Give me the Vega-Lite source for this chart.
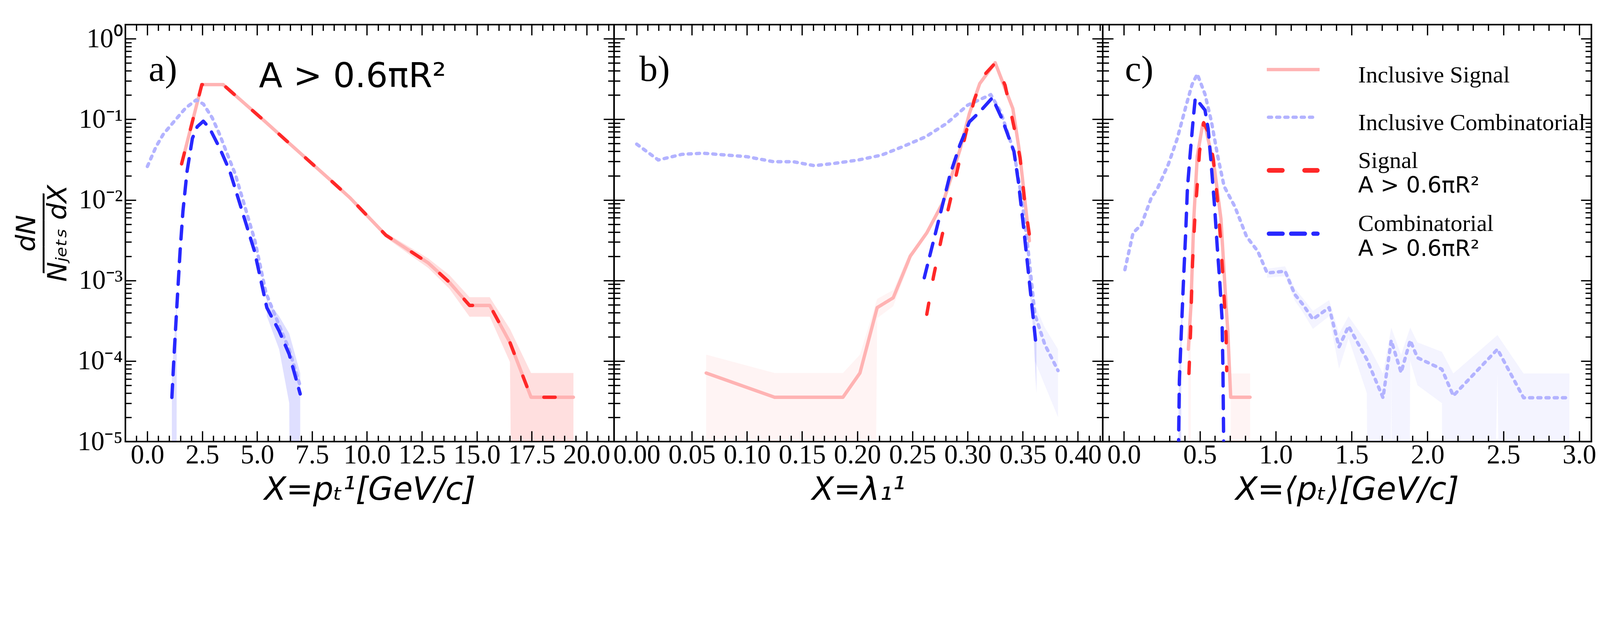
{
  "$schema": "https://vega.github.io/schema/vega-lite/v6.json",
  "background": "white",
  "padding": {"left": 33, "top": 59, "right": 0, "bottom": 4},
  "bounds": "flush",
  "spacing": 0,
  "datasets": {
    "pa": [
      {"s": "IS", "x": 1.56, "y": 0.028},
      {"s": "IS", "x": 2.48, "y": 0.27},
      {"s": "IS", "x": 3.45, "y": 0.27},
      {"s": "IS", "x": 4.42, "y": 0.158},
      {"s": "IS", "x": 5.38, "y": 0.093},
      {"s": "IS", "x": 6.34, "y": 0.054},
      {"s": "IS", "x": 7.3, "y": 0.0315},
      {"s": "IS", "x": 8.27, "y": 0.0183},
      {"s": "IS", "x": 9.23, "y": 0.0106},
      {"s": "IS", "x": 10.86, "y": 0.00365},
      {"s": "IS", "x": 12.79, "y": 0.00165},
      {"s": "IS", "x": 13.75, "y": 0.00095},
      {"s": "IS", "x": 14.67, "y": 0.00049},
      {"s": "IS", "x": 15.59, "y": 0.00049},
      {"s": "IS", "x": 16.51, "y": 0.00017},
      {"s": "IS", "x": 17.47, "y": 0.0000355},
      {"s": "IS", "x": 19.4, "y": 0.0000355},
      {"s": "IC", "x": 0.0, "y": 0.026},
      {"s": "IC", "x": 0.4, "y": 0.046},
      {"s": "IC", "x": 0.72, "y": 0.065},
      {"s": "IC", "x": 1.2, "y": 0.093},
      {"s": "IC", "x": 1.74, "y": 0.138},
      {"s": "IC", "x": 2.22, "y": 0.174},
      {"s": "IC", "x": 2.55, "y": 0.155},
      {"s": "IC", "x": 2.95, "y": 0.105},
      {"s": "IC", "x": 3.28, "y": 0.066},
      {"s": "IC", "x": 3.64, "y": 0.037},
      {"s": "IC", "x": 4.0, "y": 0.021},
      {"s": "IC", "x": 4.4, "y": 0.009},
      {"s": "IC", "x": 4.9, "y": 0.0031},
      {"s": "IC", "x": 5.4, "y": 0.0007},
      {"s": "IC", "x": 5.95, "y": 0.0003},
      {"s": "IC", "x": 6.45, "y": 0.00014},
      {"s": "IC", "x": 6.95, "y": 0.00005},
      {"s": "S", "x": 1.56, "y": 0.028},
      {"s": "S", "x": 2.48, "y": 0.27},
      {"s": "S", "x": 3.45, "y": 0.27},
      {"s": "S", "x": 4.42, "y": 0.158},
      {"s": "S", "x": 5.38, "y": 0.093},
      {"s": "S", "x": 6.34, "y": 0.054},
      {"s": "S", "x": 7.3, "y": 0.0315},
      {"s": "S", "x": 8.27, "y": 0.0183, "seg": "a1", "lo": 0.0177, "hi": 0.0189},
      {"s": "S", "x": 9.23, "y": 0.0106, "seg": "a1", "lo": 0.0101, "hi": 0.0112},
      {"s": "S", "x": 10.86, "y": 0.00365, "seg": "a1", "lo": 0.0034, "hi": 0.0039},
      {"s": "S", "x": 12.79, "y": 0.00165, "seg": "a1", "lo": 0.00143, "hi": 0.00188},
      {"s": "S", "x": 13.75, "y": 0.00095, "seg": "a1", "lo": 0.00079, "hi": 0.00117},
      {"s": "S", "x": 14.67, "y": 0.00049, "seg": "a1", "lo": 0.000355, "hi": 0.00062},
      {"s": "S", "x": 15.59, "y": 0.00049, "seg": "a1", "lo": 0.000355, "hi": 0.00062},
      {"s": "S", "x": 16.51, "y": 0.00017, "seg": "a1", "lo": 0.000097, "hi": 0.00025},
      {"s": "S", "x": 17.47, "y": 0.0000355, "seg": "a1", "lo": 1e-30, "hi": 0.000071},
      {"s": "S", "x": 19.4, "y": 0.0000355, "seg": "a1", "lo": 1e-30, "hi": 0.000071},
      {"s": "C", "x": 1.117, "y": 0.0000353, "seg": "a2", "lo": 1e-30, "hi": 0.00007},
      {"s": "C", "x": 1.21, "y": 0.00011, "seg": "a2", "lo": 1e-30, "hi": 0.00016},
      {"s": "C", "x": 1.34, "y": 0.00046, "seg": "a2", "lo": 0.00036, "hi": 0.00058},
      {"s": "C", "x": 1.49, "y": 0.0023},
      {"s": "C", "x": 1.62, "y": 0.0072},
      {"s": "C", "x": 1.806, "y": 0.0225},
      {"s": "C", "x": 2.05, "y": 0.058},
      {"s": "C", "x": 2.27, "y": 0.081},
      {"s": "C", "x": 2.55, "y": 0.095},
      {"s": "C", "x": 2.83, "y": 0.078},
      {"s": "C", "x": 3.3, "y": 0.0436},
      {"s": "C", "x": 3.76, "y": 0.0225},
      {"s": "C", "x": 4.32, "y": 0.0072},
      {"s": "C", "x": 4.88, "y": 0.0023},
      {"s": "C", "x": 5.44, "y": 0.00046, "seg": "a3", "lo": 0.00036, "hi": 0.00058},
      {"s": "C", "x": 6.0, "y": 0.000236, "seg": "a3", "lo": 0.00014, "hi": 0.00036},
      {"s": "C", "x": 6.46, "y": 0.000121, "seg": "a3", "lo": 0.00003, "hi": 0.00022},
      {"s": "C", "x": 6.96, "y": 0.000039, "seg": "a3", "lo": 1e-30, "hi": 0.000071}
    ],
    "pb": [
      {"s": "IS", "x": 0.063, "y": 0.000071, "seg": "b1", "lo": 1e-30, "hi": 0.00012},
      {"s": "IS", "x": 0.125, "y": 0.0000355, "seg": "b1", "lo": 1e-30, "hi": 0.000071},
      {"s": "IS", "x": 0.187, "y": 0.0000355, "seg": "b1", "lo": 1e-30, "hi": 0.000071},
      {"s": "IS", "x": 0.2024, "y": 0.000071, "seg": "b1", "lo": 1e-30, "hi": 0.00012},
      {"s": "IS", "x": 0.218, "y": 0.00046, "seg": "b1", "lo": 0.00034, "hi": 0.00059},
      {"s": "IS", "x": 0.2326, "y": 0.00061, "seg": "b1", "lo": 0.00048, "hi": 0.00076},
      {"s": "IS", "x": 0.248, "y": 0.002, "seg": "b1", "lo": 0.0017, "hi": 0.0023},
      {"s": "IS", "x": 0.263, "y": 0.0039},
      {"s": "IS", "x": 0.278, "y": 0.0095},
      {"s": "IS", "x": 0.293, "y": 0.0416},
      {"s": "IS", "x": 0.3016, "y": 0.118},
      {"s": "IS", "x": 0.311, "y": 0.278},
      {"s": "IS", "x": 0.325, "y": 0.505},
      {"s": "IS", "x": 0.341, "y": 0.136},
      {"s": "IS", "x": 0.347, "y": 0.04},
      {"s": "IS", "x": 0.356, "y": 0.0031},
      {"s": "IC", "x": 0.0, "y": 0.0493},
      {"s": "IC", "x": 0.0196, "y": 0.0313},
      {"s": "IC", "x": 0.041, "y": 0.0368},
      {"s": "IC", "x": 0.06, "y": 0.038},
      {"s": "IC", "x": 0.1, "y": 0.0344},
      {"s": "IC", "x": 0.124, "y": 0.0298},
      {"s": "IC", "x": 0.142, "y": 0.0298},
      {"s": "IC", "x": 0.161, "y": 0.0266},
      {"s": "IC", "x": 0.18, "y": 0.0285},
      {"s": "IC", "x": 0.201, "y": 0.0313},
      {"s": "IC", "x": 0.222, "y": 0.036},
      {"s": "IC", "x": 0.241, "y": 0.0457},
      {"s": "IC", "x": 0.262, "y": 0.0608},
      {"s": "IC", "x": 0.281, "y": 0.089},
      {"s": "IC", "x": 0.3, "y": 0.15},
      {"s": "IC", "x": 0.321, "y": 0.203},
      {"s": "IC", "x": 0.33, "y": 0.124},
      {"s": "IC", "x": 0.342, "y": 0.0396},
      {"s": "IC", "x": 0.349, "y": 0.0105},
      {"s": "IC", "x": 0.355, "y": 0.0023},
      {"s": "IC", "x": 0.361, "y": 0.00038, "seg": "b3", "lo": 0.0001, "hi": 0.0005},
      {"s": "IC", "x": 0.37, "y": 0.00016, "seg": "b3", "lo": 0.00005, "hi": 0.00026},
      {"s": "IC", "x": 0.382, "y": 0.000076, "seg": "b3", "lo": 0.00002, "hi": 0.00014},
      {"s": "S", "x": 0.263, "y": 0.00038},
      {"s": "S", "x": 0.269, "y": 0.0011},
      {"s": "S", "x": 0.2764, "y": 0.0034},
      {"s": "S", "x": 0.284, "y": 0.0095},
      {"s": "S", "x": 0.29, "y": 0.0214},
      {"s": "S", "x": 0.2987, "y": 0.07},
      {"s": "S", "x": 0.306, "y": 0.173},
      {"s": "S", "x": 0.3135, "y": 0.336},
      {"s": "S", "x": 0.325, "y": 0.5},
      {"s": "S", "x": 0.334, "y": 0.265},
      {"s": "S", "x": 0.343, "y": 0.07},
      {"s": "S", "x": 0.3476, "y": 0.033},
      {"s": "S", "x": 0.352, "y": 0.0087},
      {"s": "S", "x": 0.3564, "y": 0.0034},
      {"s": "C", "x": 0.2607, "y": 0.00108},
      {"s": "C", "x": 0.266, "y": 0.0021},
      {"s": "C", "x": 0.275, "y": 0.0065},
      {"s": "C", "x": 0.284, "y": 0.0204},
      {"s": "C", "x": 0.293, "y": 0.048},
      {"s": "C", "x": 0.3016, "y": 0.093},
      {"s": "C", "x": 0.311, "y": 0.124},
      {"s": "C", "x": 0.3224, "y": 0.185},
      {"s": "C", "x": 0.331, "y": 0.103},
      {"s": "C", "x": 0.342, "y": 0.04},
      {"s": "C", "x": 0.346, "y": 0.0169},
      {"s": "C", "x": 0.3505, "y": 0.0049},
      {"s": "C", "x": 0.355, "y": 0.0013, "seg": "b2", "lo": 0.0011, "hi": 0.0015},
      {"s": "C", "x": 0.3594, "y": 0.00035, "seg": "b2", "lo": 0.00025, "hi": 0.00045},
      {"s": "C", "x": 0.3624, "y": 0.00014, "seg": "b2", "lo": 0.00004, "hi": 0.00022}
    ],
    "pc": [
      {"s": "IS", "x": 0.424, "y": 0.00014, "seg": "c2a", "lo": 1e-30, "hi": 0.00025},
      {"s": "IS", "x": 0.441, "y": 0.00048, "seg": "c2a", "lo": 0.00035, "hi": 0.0006},
      {"s": "IS", "x": 0.46, "y": 0.0058},
      {"s": "IS", "x": 0.483, "y": 0.035},
      {"s": "IS", "x": 0.519, "y": 0.088},
      {"s": "IS", "x": 0.54, "y": 0.076},
      {"s": "IS", "x": 0.597, "y": 0.024},
      {"s": "IS", "x": 0.639, "y": 0.0058},
      {"s": "IS", "x": 0.673, "y": 0.00048},
      {"s": "IS", "x": 0.684, "y": 0.000235},
      {"s": "IS", "x": 0.703, "y": 0.0000355, "seg": "c2b", "lo": 1e-30, "hi": 0.00007},
      {"s": "IS", "x": 0.831, "y": 0.0000355, "seg": "c2b", "lo": 1e-30, "hi": 0.00007},
      {"s": "IC", "x": 0.006, "y": 0.00136},
      {"s": "IC", "x": 0.06, "y": 0.0039},
      {"s": "IC", "x": 0.114, "y": 0.0049},
      {"s": "IC", "x": 0.179, "y": 0.0105},
      {"s": "IC", "x": 0.224, "y": 0.0143},
      {"s": "IC", "x": 0.293, "y": 0.0279},
      {"s": "IC", "x": 0.35, "y": 0.0569},
      {"s": "IC", "x": 0.407, "y": 0.143},
      {"s": "IC", "x": 0.449, "y": 0.272},
      {"s": "IC", "x": 0.483, "y": 0.365},
      {"s": "IC", "x": 0.534, "y": 0.205},
      {"s": "IC", "x": 0.576, "y": 0.094},
      {"s": "IC", "x": 0.618, "y": 0.0347},
      {"s": "IC", "x": 0.66, "y": 0.0147},
      {"s": "IC", "x": 0.73, "y": 0.0083},
      {"s": "IC", "x": 0.808, "y": 0.0035},
      {"s": "IC", "x": 0.882, "y": 0.0023},
      {"s": "IC", "x": 0.943, "y": 0.00124, "seg": "c1", "lo": 0.00108, "hi": 0.0014},
      {"s": "IC", "x": 1.062, "y": 0.0013, "seg": "c1", "lo": 0.00113, "hi": 0.0015},
      {"s": "IC", "x": 1.126, "y": 0.00067, "seg": "c1", "lo": 0.00056, "hi": 0.0008},
      {"s": "IC", "x": 1.18, "y": 0.0005, "seg": "c1", "lo": 0.0004, "hi": 0.0006},
      {"s": "IC", "x": 1.245, "y": 0.00033, "seg": "c1", "lo": 0.00025, "hi": 0.00042},
      {"s": "IC", "x": 1.352, "y": 0.00046, "seg": "c1", "lo": 0.00036, "hi": 0.00057},
      {"s": "IC", "x": 1.417, "y": 0.00015, "seg": "c1", "lo": 0.00008, "hi": 0.00022},
      {"s": "IC", "x": 1.48, "y": 0.00027, "seg": "c1", "lo": 0.00019, "hi": 0.00036},
      {"s": "IC", "x": 1.6, "y": 0.000105, "seg": "c1", "lo": 0.00004, "hi": 0.00017},
      {"s": "IC", "x": 1.707, "y": 0.000035, "seg": "c1", "lo": 1e-30, "hi": 0.00007},
      {"s": "IC", "x": 1.761, "y": 0.00018, "seg": "c1", "lo": 0.0001, "hi": 0.00026},
      {"s": "IC", "x": 1.826, "y": 0.000072, "seg": "c1", "lo": 1e-30, "hi": 0.00012},
      {"s": "IC", "x": 1.886, "y": 0.00018, "seg": "c1", "lo": 0.0001, "hi": 0.00026},
      {"s": "IC", "x": 1.934, "y": 0.00011, "seg": "c1", "lo": 0.00005, "hi": 0.00017},
      {"s": "IC", "x": 2.095, "y": 0.000079, "seg": "c1", "lo": 0.00003, "hi": 0.00013},
      {"s": "IC", "x": 2.17, "y": 0.000037, "seg": "c1", "lo": 1e-30, "hi": 0.00007},
      {"s": "IC", "x": 2.461, "y": 0.00014, "seg": "c1", "lo": 0.00007, "hi": 0.00021},
      {"s": "IC", "x": 2.633, "y": 0.000035, "seg": "c1", "lo": 1e-30, "hi": 0.00007},
      {"s": "IC", "x": 2.935, "y": 0.000035, "seg": "c1", "lo": 1e-30, "hi": 0.00007},
      {"s": "S", "x": 0.428, "y": 0.00007},
      {"s": "S", "x": 0.439, "y": 0.000235},
      {"s": "S", "x": 0.445, "y": 0.00064},
      {"s": "S", "x": 0.452, "y": 0.0017},
      {"s": "S", "x": 0.466, "y": 0.0055},
      {"s": "S", "x": 0.481, "y": 0.0138},
      {"s": "S", "x": 0.498, "y": 0.04},
      {"s": "S", "x": 0.525, "y": 0.091},
      {"s": "S", "x": 0.555, "y": 0.07},
      {"s": "S", "x": 0.589, "y": 0.032},
      {"s": "S", "x": 0.614, "y": 0.011},
      {"s": "S", "x": 0.635, "y": 0.0035},
      {"s": "S", "x": 0.65, "y": 0.0013},
      {"s": "S", "x": 0.663, "y": 0.00048},
      {"s": "S", "x": 0.673, "y": 0.000205},
      {"s": "S", "x": 0.677, "y": 0.000076},
      {"s": "C", "x": 0.356, "y": 0.000002},
      {"s": "C", "x": 0.36, "y": 0.000011, "seg": "c3", "lo": 1e-30, "hi": 0.00003},
      {"s": "C", "x": 0.365, "y": 0.000057, "seg": "c3", "lo": 1e-30, "hi": 0.00009},
      {"s": "C", "x": 0.378, "y": 0.000235, "seg": "c3", "lo": 0.00012, "hi": 0.00035},
      {"s": "C", "x": 0.392, "y": 0.00098, "seg": "c3", "lo": 0.0008, "hi": 0.0012},
      {"s": "C", "x": 0.407, "y": 0.0041},
      {"s": "C", "x": 0.418, "y": 0.0138},
      {"s": "C", "x": 0.435, "y": 0.035},
      {"s": "C", "x": 0.456, "y": 0.1},
      {"s": "C", "x": 0.47, "y": 0.185},
      {"s": "C", "x": 0.534, "y": 0.13},
      {"s": "C", "x": 0.555, "y": 0.076},
      {"s": "C", "x": 0.576, "y": 0.026},
      {"s": "C", "x": 0.597, "y": 0.0083},
      {"s": "C", "x": 0.614, "y": 0.0027},
      {"s": "C", "x": 0.631, "y": 0.00098},
      {"s": "C", "x": 0.646, "y": 0.00034},
      {"s": "C", "x": 0.652, "y": 0.000081},
      {"s": "C", "x": 0.656, "y": 0.000014},
      {"s": "C", "x": 0.659, "y": 0.000002}
    ]
  },
  "hconcat": [
    {
      "width": 1251,
      "height": 1067,
      "data": {"name": "pa"},
      "layer": [
        {
          "transform": [{"filter": "isValid(datum.lo)"}],
          "mark": {"type": "area", "clip": true, "fillOpacity": 0.15},
          "encoding": {
            "x": {"field": "x", "type": "quantitative", "scale": {"domain": [-1.0, 21.25], "nice": false, "zero": false},
              "axis": {"orient": "top", "values": [-0.5,0,0.5,1,1.5,2,2.5,3,3.5,4,4.5,5,5.5,6,6.5,7,7.5,8,8.5,9,9.5,10,10.5,11,11.5,12,12.5,13,13.5,14,14.5,15,15.5,16,16.5,17,17.5,18,18.5,19,19.5,20,20.5,21],
                "tickSize": {"condition": {"test": "datum.value % 2.5 == 0", "value": -27}, "value": -15.5}, "labels": false, "title": null, "zindex": 1}},
            "y": {"field": "lo", "type": "quantitative", "scale": {"type": "log", "domain": [0.00001, 1.5], "nice": false},
              "axis": {"orient": "right", "values": [0.00001,0.00002,0.00003,0.00004,0.00005,0.00006,0.00007,0.00008,0.00009,0.0001,0.0002,0.0003,0.0004,0.0005,0.0006,0.0007,0.0008,0.0009,0.001,0.002,0.003,0.004,0.005,0.006,0.007,0.008,0.009,0.01,0.02,0.03,0.04,0.05,0.06,0.07,0.08,0.09,0.1,0.2,0.3,0.4,0.5,0.6,0.7,0.8,0.9,1],
                "tickSize": {"condition": {"test": "indexof([1,0.1,0.01,0.001,0.0001,0.00001], datum.value) >= 0", "value": -27}, "value": -15.5}, "labels": false, "title": null, "zindex": 1}},
            "y2": {"field": "hi"},
            "fill": {"field": "s", "type": "nominal", "scale": {"domain": ["IS", "IC", "S", "C"], "range": ["#ffb3b3", "#b3b3ff", "#ff2828", "#2828ff"]}, "legend": null},
            "detail": {"field": "seg"}
          }
        },
        {
          "mark": {"type": "line", "clip": true, "strokeCap": "round", "strokeJoin": "round"},
          "encoding": {
            "x": {"field": "x", "type": "quantitative",
              "axis": {"orient": "bottom", "values": [-0.5,0,0.5,1,1.5,2,2.5,3,3.5,4,4.5,5,5.5,6,6.5,7,7.5,8,8.5,9,9.5,10,10.5,11,11.5,12,12.5,13,13.5,14,14.5,15,15.5,16,16.5,17,17.5,18,18.5,19,19.5,20,20.5,21],
                "tickSize": {"condition": {"test": "datum.value % 2.5 == 0", "value": -27}, "value": -15.5},
                "labelExpr": "datum.value % 2.5 == 0 ? format(datum.value, '.1f') : ''", "labelPadding": 27,
                "title": "X=pₜ¹[GeV/c]", "titleFont": "DejaVu Sans", "titleFontStyle": "italic", "titleFontWeight": "normal", "titleFontSize": 82, "titlePadding": 3, "zindex": 1}},
            "y": {"field": "y", "type": "quantitative",
              "axis": {"orient": "left", "values": [0.00001,0.00002,0.00003,0.00004,0.00005,0.00006,0.00007,0.00008,0.00009,0.0001,0.0002,0.0003,0.0004,0.0005,0.0006,0.0007,0.0008,0.0009,0.001,0.002,0.003,0.004,0.005,0.006,0.007,0.008,0.009,0.01,0.02,0.03,0.04,0.05,0.06,0.07,0.08,0.09,0.1,0.2,0.3,0.4,0.5,0.6,0.7,0.8,0.9,1],
                "tickSize": {"condition": {"test": "indexof([1,0.1,0.01,0.001,0.0001,0.00001], datum.value) >= 0", "value": -27}, "value": -15.5},
                "labelExpr": "datum.value == 1 ? '10⁰' : datum.value == 0.1 ? '10⁻¹' : datum.value == 0.01 ? '10⁻²' : datum.value == 0.001 ? '10⁻³' : datum.value == 0.0001 ? '10⁻⁴' : datum.value == 0.00001 ? '10⁻⁵' : ''",
                "labelPadding": 34, "labelBaseline": "middle",
                "title": ["dN", "―――", "Nⱼₑₜₛ dX"], "titleFont": "DejaVu Sans", "titleFontStyle": "italic", "titleFontWeight": "normal", "titleFontSize": 68, "titleLineHeight": 40, "titlePadding": 14, "zindex": 1}},
            "color": {"field": "s", "type": "nominal", "scale": {"domain": ["IS", "IC", "S", "C"], "range": ["#ffb3b3", "#b3b3ff", "#ff2828", "#2828ff"]}, "legend": null},
            "strokeDash": {"field": "s", "type": "nominal", "scale": {"domain": ["IS", "IC", "S", "C"], "range": [[1, 0], [8, 13], [29, 62], [33, 25]]}, "legend": null},
            "strokeWidth": {"field": "s", "type": "nominal", "scale": {"domain": ["IS", "IC", "S", "C"], "range": [8.6, 8.6, 11.9, 11.1]}, "legend": null}
          }
        },
        {
          "data": {"values": [{}]},
          "mark": {"type": "text", "font": "Liberation Serif", "fontSize": 94, "align": "left", "baseline": "alphabetic", "color": "black"},
          "encoding": {
            "x": {"datum": 0.06, "type": "quantitative", "axis": null},
            "y": {"datum": 0.3, "type": "quantitative", "axis": null},
            "text": {"value": "a)"}
          }
        },
        {
          "data": {"values": [{}]},
          "mark": {"type": "text", "font": "DejaVu Sans", "fontSize": 88, "align": "left", "baseline": "alphabetic", "color": "black"},
          "encoding": {
            "x": {"datum": 5.08, "type": "quantitative", "axis": null},
            "y": {"datum": 0.251, "type": "quantitative", "axis": null},
            "text": {"value": "A > 0.6πR²"}
          }
        }
      ],
      "resolve": {"axis": {"x": "independent", "y": "independent"}}
    },
    {
      "width": 1251,
      "height": 1067,
      "data": {"name": "pb"},
      "layer": [
        {
          "transform": [{"filter": "isValid(datum.lo)"}],
          "mark": {"type": "area", "clip": true, "fillOpacity": 0.15},
          "encoding": {
            "x": {"field": "x", "type": "quantitative", "scale": {"domain": [-0.0205, 0.4225], "nice": false, "zero": false},
              "axis": {"orient": "top", "values": [-0.01,0,0.01,0.02,0.03,0.04,0.05,0.06,0.07,0.08,0.09,0.1,0.11,0.12,0.13,0.14,0.15,0.16,0.17,0.18,0.19,0.2,0.21,0.22,0.23,0.24,0.25,0.26,0.27,0.28,0.29,0.3,0.31,0.32,0.33,0.34,0.35,0.36,0.37,0.38,0.39,0.4,0.41,0.42],
                "tickSize": {"condition": {"test": "abs(datum.value*20 - round(datum.value*20)) < 1e-6", "value": -27}, "value": -15.5}, "labels": false, "title": null, "zindex": 1}},
            "y": {"field": "lo", "type": "quantitative", "scale": {"type": "log", "domain": [0.00001, 1.5], "nice": false},
              "axis": {"orient": "right", "values": [0.00001,0.00002,0.00003,0.00004,0.00005,0.00006,0.00007,0.00008,0.00009,0.0001,0.0002,0.0003,0.0004,0.0005,0.0006,0.0007,0.0008,0.0009,0.001,0.002,0.003,0.004,0.005,0.006,0.007,0.008,0.009,0.01,0.02,0.03,0.04,0.05,0.06,0.07,0.08,0.09,0.1,0.2,0.3,0.4,0.5,0.6,0.7,0.8,0.9,1],
                "tickSize": {"condition": {"test": "indexof([1,0.1,0.01,0.001,0.0001,0.00001], datum.value) >= 0", "value": -27}, "value": -15.5}, "labels": false, "title": null, "zindex": 1}},
            "y2": {"field": "hi"},
            "fill": {"field": "s", "type": "nominal", "scale": {"domain": ["IS", "IC", "S", "C"], "range": ["#ffb3b3", "#b3b3ff", "#ff2828", "#2828ff"]}, "legend": null},
            "detail": {"field": "seg"}
          }
        },
        {
          "mark": {"type": "line", "clip": true, "strokeCap": "round", "strokeJoin": "round"},
          "encoding": {
            "x": {"field": "x", "type": "quantitative",
              "axis": {"orient": "bottom", "values": [-0.01,0,0.01,0.02,0.03,0.04,0.05,0.06,0.07,0.08,0.09,0.1,0.11,0.12,0.13,0.14,0.15,0.16,0.17,0.18,0.19,0.2,0.21,0.22,0.23,0.24,0.25,0.26,0.27,0.28,0.29,0.3,0.31,0.32,0.33,0.34,0.35,0.36,0.37,0.38,0.39,0.4,0.41,0.42],
                "tickSize": {"condition": {"test": "abs(datum.value*20 - round(datum.value*20)) < 1e-6", "value": -27}, "value": -15.5},
                "labelExpr": "abs(datum.value*20 - round(datum.value*20)) < 1e-6 ? format(datum.value, '.2f') : ''", "labelPadding": 27,
                "title": "X=λ₁¹", "titleFont": "DejaVu Sans", "titleFontStyle": "italic", "titleFontWeight": "normal", "titleFontSize": 82, "titlePadding": 3, "zindex": 1}},
            "y": {"field": "y", "type": "quantitative",
              "axis": {"orient": "left", "values": [0.00001,0.00002,0.00003,0.00004,0.00005,0.00006,0.00007,0.00008,0.00009,0.0001,0.0002,0.0003,0.0004,0.0005,0.0006,0.0007,0.0008,0.0009,0.001,0.002,0.003,0.004,0.005,0.006,0.007,0.008,0.009,0.01,0.02,0.03,0.04,0.05,0.06,0.07,0.08,0.09,0.1,0.2,0.3,0.4,0.5,0.6,0.7,0.8,0.9,1],
                "tickSize": {"condition": {"test": "indexof([1,0.1,0.01,0.001,0.0001,0.00001], datum.value) >= 0", "value": -27}, "value": -15.5}, "labels": false, "title": null, "zindex": 1}},
            "color": {"field": "s", "type": "nominal", "scale": {"domain": ["IS", "IC", "S", "C"], "range": ["#ffb3b3", "#b3b3ff", "#ff2828", "#2828ff"]}, "legend": null},
            "strokeDash": {"field": "s", "type": "nominal", "scale": {"domain": ["IS", "IC", "S", "C"], "range": [[1, 0], [8, 13], [29, 62], [33, 25]]}, "legend": null},
            "strokeWidth": {"field": "s", "type": "nominal", "scale": {"domain": ["IS", "IC", "S", "C"], "range": [8.6, 8.6, 11.9, 11.1]}, "legend": null}
          }
        },
        {
          "data": {"values": [{}]},
          "mark": {"type": "text", "font": "Liberation Serif", "fontSize": 94, "align": "left", "baseline": "alphabetic", "color": "black"},
          "encoding": {
            "x": {"datum": 0.0023, "type": "quantitative", "axis": null},
            "y": {"datum": 0.3, "type": "quantitative", "axis": null},
            "text": {"value": "b)"}
          }
        }
      ],
      "resolve": {"axis": {"x": "independent", "y": "independent"}}
    },
    {
      "width": 1251,
      "height": 1067,
      "data": {"name": "pc"},
      "layer": [
        {
          "transform": [{"filter": "isValid(datum.lo)"}],
          "mark": {"type": "area", "clip": true, "fillOpacity": 0.15},
          "encoding": {
            "x": {"field": "x", "type": "quantitative", "scale": {"domain": [-0.14, 3.08], "nice": false, "zero": false},
              "axis": {"orient": "top", "values": [-0.1,0,0.1,0.2,0.3,0.4,0.5,0.6,0.7,0.8,0.9,1,1.1,1.2,1.3,1.4,1.5,1.6,1.7,1.8,1.9,2,2.1,2.2,2.3,2.4,2.5,2.6,2.7,2.8,2.9,3],
                "tickSize": {"condition": {"test": "abs(datum.value*2 - round(datum.value*2)) < 1e-6", "value": -27}, "value": -15.5}, "labels": false, "title": null, "zindex": 1}},
            "y": {"field": "lo", "type": "quantitative", "scale": {"type": "log", "domain": [0.00001, 1.5], "nice": false},
              "axis": {"orient": "right", "values": [0.00001,0.00002,0.00003,0.00004,0.00005,0.00006,0.00007,0.00008,0.00009,0.0001,0.0002,0.0003,0.0004,0.0005,0.0006,0.0007,0.0008,0.0009,0.001,0.002,0.003,0.004,0.005,0.006,0.007,0.008,0.009,0.01,0.02,0.03,0.04,0.05,0.06,0.07,0.08,0.09,0.1,0.2,0.3,0.4,0.5,0.6,0.7,0.8,0.9,1],
                "tickSize": {"condition": {"test": "indexof([1,0.1,0.01,0.001,0.0001,0.00001], datum.value) >= 0", "value": -27}, "value": -15.5}, "labels": false, "title": null, "zindex": 1}},
            "y2": {"field": "hi"},
            "fill": {"field": "s", "type": "nominal", "scale": {"domain": ["IS", "IC", "S", "C"], "range": ["#ffb3b3", "#b3b3ff", "#ff2828", "#2828ff"]}, "legend": null},
            "detail": {"field": "seg"}
          }
        },
        {
          "mark": {"type": "line", "clip": true, "strokeCap": "round", "strokeJoin": "round"},
          "encoding": {
            "x": {"field": "x", "type": "quantitative",
              "axis": {"orient": "bottom", "values": [-0.1,0,0.1,0.2,0.3,0.4,0.5,0.6,0.7,0.8,0.9,1,1.1,1.2,1.3,1.4,1.5,1.6,1.7,1.8,1.9,2,2.1,2.2,2.3,2.4,2.5,2.6,2.7,2.8,2.9,3],
                "tickSize": {"condition": {"test": "abs(datum.value*2 - round(datum.value*2)) < 1e-6", "value": -27}, "value": -15.5},
                "labelExpr": "abs(datum.value*2 - round(datum.value*2)) < 1e-6 ? format(datum.value, '.1f') : ''", "labelPadding": 27,
                "title": "X=⟨pₜ⟩[GeV/c]", "titleFont": "DejaVu Sans", "titleFontStyle": "italic", "titleFontWeight": "normal", "titleFontSize": 82, "titlePadding": 3, "zindex": 1}},
            "y": {"field": "y", "type": "quantitative",
              "axis": {"orient": "left", "values": [0.00001,0.00002,0.00003,0.00004,0.00005,0.00006,0.00007,0.00008,0.00009,0.0001,0.0002,0.0003,0.0004,0.0005,0.0006,0.0007,0.0008,0.0009,0.001,0.002,0.003,0.004,0.005,0.006,0.007,0.008,0.009,0.01,0.02,0.03,0.04,0.05,0.06,0.07,0.08,0.09,0.1,0.2,0.3,0.4,0.5,0.6,0.7,0.8,0.9,1],
                "tickSize": {"condition": {"test": "indexof([1,0.1,0.01,0.001,0.0001,0.00001], datum.value) >= 0", "value": -27}, "value": -15.5}, "labels": false, "title": null, "zindex": 1}},
            "color": {"field": "s", "type": "nominal", "scale": {"domain": ["IS", "IC", "S", "C"], "range": ["#ffb3b3", "#b3b3ff", "#ff2828", "#2828ff"]}, "legend": null},
            "strokeDash": {"field": "s", "type": "nominal", "scale": {"domain": ["IS", "IC", "S", "C"], "range": [[1, 0], [8, 13], [29, 62], [33, 25]]}, "legend": null},
            "strokeWidth": {"field": "s", "type": "nominal", "scale": {"domain": ["IS", "IC", "S", "C"], "range": [8.6, 8.6, 11.9, 11.1]}, "legend": null}
          }
        },
        {
          "data": {"values": [{}]},
          "mark": {"type": "text", "font": "Liberation Serif", "fontSize": 94, "align": "left", "baseline": "alphabetic", "color": "black"},
          "encoding": {
            "x": {"datum": 0.006, "type": "quantitative", "axis": null},
            "y": {"datum": 0.3, "type": "quantitative", "axis": null},
            "text": {"value": "c)"}
          }
        },
        {
          "data": {"values": [{}]},
          "mark": {"type": "rule", "color": "#ffb3b3", "strokeWidth": 8.6, "strokeCap": "butt"},
          "encoding": {
            "x": {"datum": 0.941, "type": "quantitative", "axis": null},
            "x2": {"datum": 1.289},
            "y": {"datum": 0.415, "type": "quantitative", "axis": null}
          }
        },
        {
          "data": {"values": [{}]},
          "mark": {"type": "rule", "color": "#b3b3ff", "strokeWidth": 8.6, "strokeCap": "round", "strokeDash": [8, 13]},
          "encoding": {
            "x": {"datum": 0.952, "type": "quantitative", "axis": null},
            "x2": {"datum": 1.275},
            "y": {"datum": 0.1062, "type": "quantitative", "axis": null}
          }
        },
        {
          "data": {"values": [{}]},
          "mark": {"type": "rule", "color": "#ff2828", "strokeWidth": 11.9, "strokeCap": "round", "strokeDash": [34, 57]},
          "encoding": {
            "x": {"datum": 0.956, "type": "quantitative", "axis": null},
            "x2": {"datum": 1.274},
            "y": {"datum": 0.02328, "type": "quantitative", "axis": null}
          }
        },
        {
          "data": {"values": [{}]},
          "mark": {"type": "rule", "color": "#2828ff", "strokeWidth": 11.1, "strokeCap": "round", "strokeDash": [35, 22]},
          "encoding": {
            "x": {"datum": 0.955, "type": "quantitative", "axis": null},
            "x2": {"datum": 1.275},
            "y": {"datum": 0.00381, "type": "quantitative", "axis": null}
          }
        },
        {
          "data": {"values": [{}]},
          "mark": {"type": "text", "font": "Liberation Serif", "fontSize": 60, "align": "left", "baseline": "alphabetic", "color": "black"},
          "encoding": {
            "x": {"datum": 1.543, "type": "quantitative", "axis": null},
            "y": {"datum": 0.287, "type": "quantitative", "axis": null},
            "text": {"value": "Inclusive Signal"}
          }
        },
        {
          "data": {"values": [{}]},
          "mark": {"type": "text", "font": "Liberation Serif", "fontSize": 60, "align": "left", "baseline": "alphabetic", "color": "black"},
          "encoding": {
            "x": {"datum": 1.543, "type": "quantitative", "axis": null},
            "y": {"datum": 0.0739, "type": "quantitative", "axis": null},
            "text": {"value": "Inclusive Combinatorial"}
          }
        },
        {
          "data": {"values": [{}]},
          "mark": {"type": "text", "font": "Liberation Serif", "fontSize": 60, "align": "left", "baseline": "alphabetic", "color": "black"},
          "encoding": {
            "x": {"datum": 1.543, "type": "quantitative", "axis": null},
            "y": {"datum": 0.025, "type": "quantitative", "axis": null},
            "text": {"value": "Signal"}
          }
        },
        {
          "data": {"values": [{}]},
          "mark": {"type": "text", "font": "DejaVu Sans", "fontSize": 57, "align": "left", "baseline": "alphabetic", "color": "black"},
          "encoding": {
            "x": {"datum": 1.543, "type": "quantitative", "axis": null},
            "y": {"datum": 0.0123, "type": "quantitative", "axis": null},
            "text": {"value": "A > 0.6πR²"}
          }
        },
        {
          "data": {"values": [{}]},
          "mark": {"type": "text", "font": "Liberation Serif", "fontSize": 60, "align": "left", "baseline": "alphabetic", "color": "black"},
          "encoding": {
            "x": {"datum": 1.543, "type": "quantitative", "axis": null},
            "y": {"datum": 0.00414, "type": "quantitative", "axis": null},
            "text": {"value": "Combinatorial"}
          }
        },
        {
          "data": {"values": [{}]},
          "mark": {"type": "text", "font": "DejaVu Sans", "fontSize": 57, "align": "left", "baseline": "alphabetic", "color": "black"},
          "encoding": {
            "x": {"datum": 1.543, "type": "quantitative", "axis": null},
            "y": {"datum": 0.00202, "type": "quantitative", "axis": null},
            "text": {"value": "A > 0.6πR²"}
          }
        }
      ],
      "resolve": {"axis": {"x": "independent", "y": "independent"}}
    }
  ],
  "config": {
    "view": {"stroke": "black", "strokeWidth": 4.1},
    "axis": {"domain": false, "grid": false, "tickColor": "black", "tickWidth": 3.3, "labelFont": "Liberation Serif", "labelFontSize": 69, "labelColor": "black", "titleColor": "black", "labelFlush": false, "labelOverlap": false, "labelBound": false, "minExtent": 0}
  }
}
